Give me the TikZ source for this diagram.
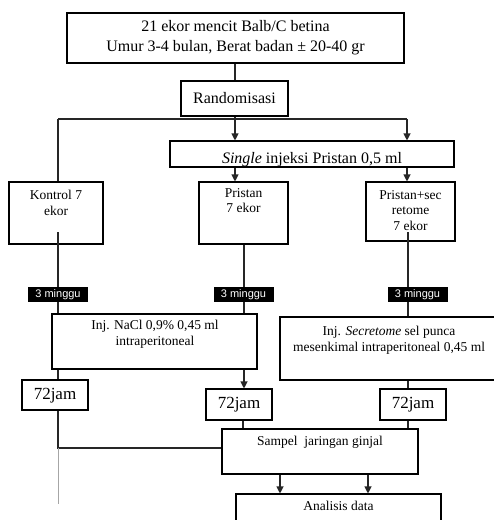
\documentclass[tikz,border=0pt]{standalone}
\usepackage{fontspec}
\setmainfont{Liberation Serif}
\newfontfamily\labelsans{Liberation Sans}
\usetikzlibrary{arrows.meta}
\tikzset{
  boxshape/.style={draw=black, line width=1.1pt, inner sep=0pt},
  txtbig/.style={inner sep=0pt, align=center, font=\fontsize{16}{20}\selectfont},
  txtsmall/.style={inner sep=0pt, align=center, font=\fontsize{13.5}{15.5}\selectfont},
  txtjam/.style={inner sep=0pt, font=\fontsize{17}{20}\selectfont},
  wklabel/.style={fill=black, text=white, inner sep=0pt, minimum width=60pt, minimum height=15pt, font=\labelsans\fontsize{11}{13}\selectfont},
  conn/.style={line width=1.1pt, draw=black!85},
  arr/.style={conn, -{Triangle[length=7pt,width=7pt]}},
}
\begin{document}
\begin{tikzpicture}[x=1pt,y=-1pt]
\clip (0,0) rectangle (494,520);
\fill[white] (0,0) rectangle (494,520);
% boxes
\node[boxshape, minimum width=337pt, minimum height=50pt] (top) at (235.5,38) {};
\node[txtbig] (topt) at (235.5,38) {21 ekor mencit Balb/C betina\\Umur 3-4 bulan, Berat badan ± 20-40 gr};
\node[boxshape, minimum width=107pt, minimum height=35pt] (rand) at (234.5,98.5) {};
\node[txtbig] (randt) at (234.5,98.5) {Randomisasi};
\node[boxshape, minimum width=284pt, minimum height=26pt] (single) at (312,154) {};
\begin{scope}
\clip (170,141) rectangle (454,166.5);
\node[txtbig, anchor=base] (singlet) at (312,163) {\textit{Single} injeksi Pristan 0,5 ml};
\end{scope}
\node[boxshape, minimum width=94pt, minimum height=62pt] (kon) at (56,213) {};
\node[txtsmall, anchor=north] (kont) at (56,190) {Kontrol 7\\ekor};
\node[boxshape, minimum width=89pt, minimum height=62pt] (pri) at (243.5,213) {};
\node[txtsmall, anchor=north] (prit) at (243.5,188) {Pristan\\7 ekor};
\node[boxshape, minimum width=89pt, minimum height=59pt] (psec) at (410.5,211.5) {};
\node[txtsmall, anchor=north] (psect) at (410.5,190) {Pristan+sec\\retome\\7 ekor};
\node[boxshape, minimum width=205pt, minimum height=55pt] (nacl) at (154.5,341.5) {};
\node[txtsmall, anchor=north] (naclt) at (155,320) {Inj. NaCl 0,9\% 0,45 ml\\intraperitoneal};
\node[boxshape, minimum width=218pt, minimum height=63pt] (sec) at (389,348.5) {};
\node[txtsmall, anchor=north] (sect) at (389,326) {Inj. \textit{Secretome} sel punca\\mesenkimal intraperitoneal 0,45 ml};
\node[boxshape, minimum width=66pt, minimum height=30pt] (jamA) at (55,395) {};
\node[txtjam] (jamAt) at (55,395.5) {72jam};
\node[boxshape, minimum width=66pt, minimum height=31pt] (jamB) at (239,404.5) {};
\node[txtjam] (jamBt) at (239,405) {72jam};
\node[boxshape, minimum width=66pt, minimum height=31pt] (jamC) at (413,404.5) {};
\node[txtjam] (jamCt) at (413,405) {72jam};
\node[boxshape, minimum width=196pt, minimum height=45pt] (samp) at (320,451.5) {};
\node[txtsmall, anchor=north] (sampt) at (320,436) {Sampel\ \ jaringan ginjal};
\node[boxshape, minimum width=205pt, minimum height=40pt] (anal) at (338.5,514) {};
\node[txtsmall, anchor=north] (analt) at (338.5,501) {Analisis data};
% connectors
\coordinate (hl) at (58,119);
\coordinate (hr) at (407,119);
\coordinate (hm) at (235,119);
\draw[conn] (top.south -| 235,0) -- (rand.north -| 235,0);
\draw[conn] (hl) -- (hr);
\draw[arr] (rand.south -| 235,0) -- (single.north -| 235,0);
\draw[arr] (hr) -- (single.north -| 407,0);
\draw[conn] (hl) -- (kon.north -| 58,0);
\draw[arr] (single.south -| 235,0) -- (pri.north -| 235,0);
\draw[arr] (single.south -| 407,0) -- (psec.north -| 407,0);
\coordinate (konin) at (58,232);
\coordinate (psecin) at (408,232);
\draw[conn] (konin) -- (nacl.north -| 58,0);
\draw[conn] (pri.south -| 244,0) -- (nacl.north -| 244,0);
\draw[conn] (psecin) -- (sec.north -| 408,0);
\node[wklabel] (wA) at (58,294.5) {3 minggu};
\node[wklabel] (wB) at (243.5,294.5) {3 minggu};
\node[wklabel] (wC) at (417.5,294.5) {3 minggu};
\draw[conn] (nacl.south -| 58,0) -- (jamA.north -| 58,0);
\draw[arr] (nacl.south -| 244,0) -- (jamB.north -| 244,0);
\draw[conn] (sec.south -| 408,0) -- (jamC.north -| 408,0);
\coordinate (corner) at (58,448);
\coordinate (faintend) at (58,504);
\draw[conn] (jamA.south -| 58,0) -- (corner) -- (samp.west |- corner);
\draw[line width=0.8pt, draw=black!35] (corner) -- (faintend);
\draw[conn] (jamB.south -| 243,0) -- (samp.north -| 243,0);
\draw[conn] (jamC.south -| 408,0) -- (samp.north -| 408,0);
\draw[arr] (samp.south -| 280,0) -- (anal.north -| 280,0);
\draw[arr] (samp.south -| 368,0) -- (anal.north -| 368,0);
\end{tikzpicture}
\end{document}
